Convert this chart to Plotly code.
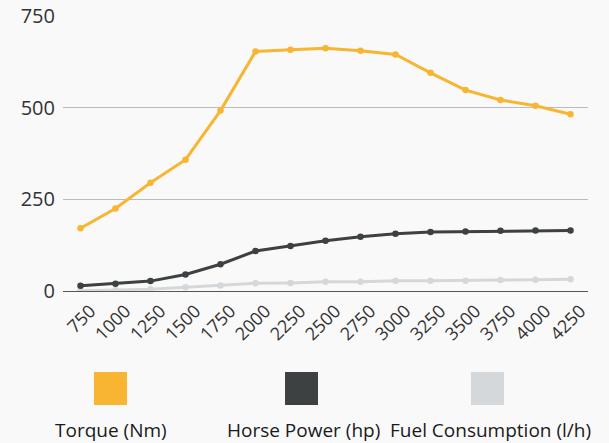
import plotly.graph_objects as go

rpm = ["750", "1000", "1250", "1500", "1750", "2000", "2250", "2500", "2750",
       "3000", "3250", "3500", "3750", "4000", "4250"]
torque = [171, 225, 295, 358, 492, 653, 658, 662, 655, 645, 595, 548, 521, 505, 482]
horse_power = [14, 20, 27, 45, 73, 109, 123, 137, 148, 156, 161, 162, 164, 165, 165]
fuel = [1, 2, 5, 10, 15, 21, 22, 25, 25, 28, 28, 28, 30, 31, 32]

series_names = ["Torque (Nm)", "Horse Power (hp)", "Fuel Consumption (l/h)"]
series_values = [torque, horse_power, fuel]
series_colors = ["#F7B532", "#3D4141", "#D5D8DB"]
y_ticks = [0, 250, 500, 750]

FONT = "Open Sans"

fig = go.Figure()
for name, vals, col in zip(series_names[::-1], series_values[::-1], series_colors[::-1]):
    fig.add_trace(go.Scatter(
        x=rpm, y=vals, name=name, mode="lines+markers",
        line=dict(color=col, width=3),
        marker=dict(color=col, size=6.5),
        showlegend=False,
    ))

# custom legend: swatch above label
sw_x = [(0.0590, 0.1219), (0.4229, 0.4857), (0.7771, 0.8400)]
txt_x = [0.0914, 0.4581, 0.8152]
for (x0, x1), tx, name, col in zip(sw_x, txt_x, series_names, series_colors):
    fig.add_shape(type="rect", xref="paper", yref="paper",
                  x0=x0, x1=x1, y0=-0.4145, y1=-0.2945,
                  fillcolor=col, line=dict(width=0))
    fig.add_annotation(text=name, xref="paper", yref="paper", x=tx, y=-0.505,
                       showarrow=False, xanchor="center", yanchor="middle",
                       font=dict(family=FONT, size=19, color="#1a1a1a"))

fig.update_layout(
    width=609, height=443,
    margin=dict(l=63, r=21, t=16, b=152, autoexpand=False),
    paper_bgcolor="#F9F9F9", plot_bgcolor="#F9F9F9",
    font=dict(family=FONT, size=18, color="#333333"),
    xaxis=dict(type="category", range=[-0.5, 14.5], tickangle=-45,
               showgrid=False, zeroline=False, showline=False, automargin=False,
               ticklabelshift=10, ticklabelstandoff=5,
               tickfont=dict(size=18, color="#333333")),
    yaxis=dict(range=[0, 750], tickvals=y_ticks, showgrid=True, automargin=False,
               gridcolor="#BBBBBB", gridwidth=1, zeroline=True,
               zerolinecolor="#555555", zerolinewidth=1,
               ticklabelstandoff=7,
               tickfont=dict(size=20, color="#333333")),
)

fig.write_html("out.html", config={"displayModeBar": False},
               post_script="document.body.style.margin='0';document.body.style.background='#F9F9F9';")
